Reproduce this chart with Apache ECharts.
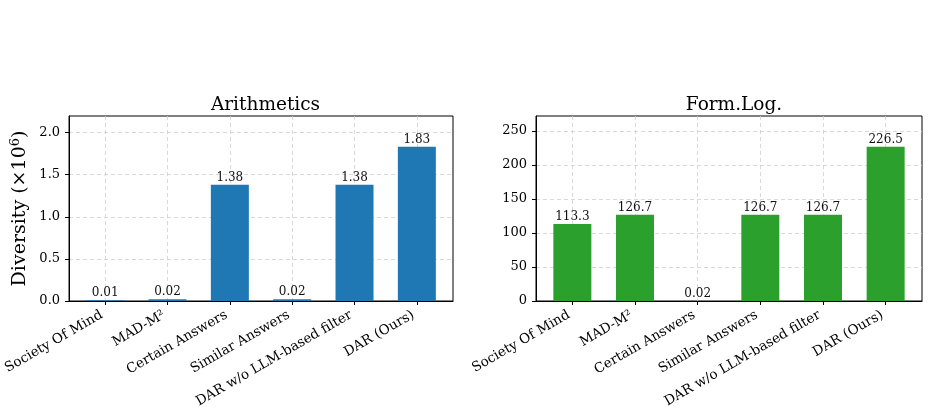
<!DOCTYPE html>
<html><head><meta charset="utf-8">
<script src="https://cdn.jsdelivr.net/npm/echarts@6/dist/echarts.min.js"></script>
<style>html,body{margin:0;padding:0;background:#fff}#c{width:928px;height:412px}</style>
</head><body><div id="c"></div>
<script>
var categories = ['Society Of Mind', 'MAD-M²', 'Certain Answers', 'Similar Answers', 'DAR w/o LLM-based filter', 'DAR (Ours)'];
var arithValues = [0.01, 0.02, 1.38, 0.02, 1.38, 1.83];
var formLogValues = [113.3, 126.7, 0.02, 126.7, 126.7, 226.5];
var arithTicks = [0, 0.5, 1.0, 1.5, 2.0];
var formLogTicks = [0, 50, 100, 150, 200, 250];
var titles = ['Arithmetics', 'Form.Log.'];
var yName = 'Diversity (×10{sup|6})';

var FONT = 'DejaVu Serif';
var chart = echarts.init(document.getElementById('c'), null, {renderer: 'canvas'});
var idx = categories.map(function (_, i) { return i; });

function xAxis(gi) {
  return {
    type: 'value', gridIndex: gi, min: -0.58, max: 5.58,
    axisLine: {show: true, onZero: false, lineStyle: {color: '#000', width: 1}},
    axisTick: {show: true, customValues: idx, length: 4, lineStyle: {color: '#000'}},
    axisLabel: {show: true, customValues: idx, rotate: 30, margin: 11, padding: [0, 4, 0, 0], fontFamily: FONT, fontSize: 13.5, color: '#000',
      formatter: function (v) { return categories[Math.round(v)]; }},
    splitLine: {show: true, lineStyle: {color: '#cfcfcf', type: [4, 3], width: 0.8}}
  };
}
function yAxis(gi, ticks, dec, name) {
  return {
    type: 'value', gridIndex: gi, min: 0,
    max: function (v) { return v.max * 1.2; },
    axisLine: {show: true, onZero: false, lineStyle: {color: '#000', width: 1}},
    axisTick: {show: true, customValues: ticks, length: 4, lineStyle: {color: '#000'}},
    axisLabel: {show: true, customValues: ticks, margin: 9, fontFamily: FONT, fontSize: 13, color: '#000',
      formatter: function (v) { return v.toFixed(dec); }},
    splitLine: {show: true, lineStyle: {color: '#cfcfcf', type: [4, 3], width: 0.8}},
    name: name || '', nameLocation: 'middle', nameRotate: 90, nameGap: 38,
    nameTextStyle: {fontFamily: FONT, fontSize: 19, color: '#000',
      rich: {sup: {fontFamily: FONT, fontSize: 13, color: '#000', verticalAlign: 'top', padding: [0, 0, 9, 0]}}}
  };
}
function barSeries(gi, values, color) {
  return {
    type: 'bar', xAxisIndex: gi, yAxisIndex: gi, barWidth: 38,
    data: values.map(function (v, i) { return [i, v]; }),
    itemStyle: {color: color},
    label: {show: true, position: 'top', distance: 1, fontFamily: FONT, fontSize: 12, color: '#111',
      formatter: function (p) { return String(p.value[1]); }}
  };
}

chart.setOption({
  animation: false,
  backgroundColor: '#fff',
  title: [
    {text: titles[0], left: 260.5, top: 91, textAlign: 'center', textStyle: {fontFamily: FONT, fontSize: 18.5, fontWeight: 'normal', color: '#000'}},
    {text: titles[1], left: 729, top: 91, textAlign: 'center', textStyle: {fontFamily: FONT, fontSize: 18.5, fontWeight: 'normal', color: '#000'}}
  ],
  grid: [
    {left: 68, top: 116, width: 385, height: 185, show: true, borderColor: '#000', borderWidth: 1, backgroundColor: 'transparent'},
    {left: 536, top: 116, width: 386, height: 185, show: true, borderColor: '#000', borderWidth: 1, backgroundColor: 'transparent'}
  ],
  xAxis: [xAxis(0), xAxis(1)],
  yAxis: [yAxis(0, arithTicks, 1, yName), yAxis(1, formLogTicks, 0)],
  series: [barSeries(0, arithValues, '#1f77b4'), barSeries(1, formLogValues, '#2ca02c')]
});
</script></body></html>
